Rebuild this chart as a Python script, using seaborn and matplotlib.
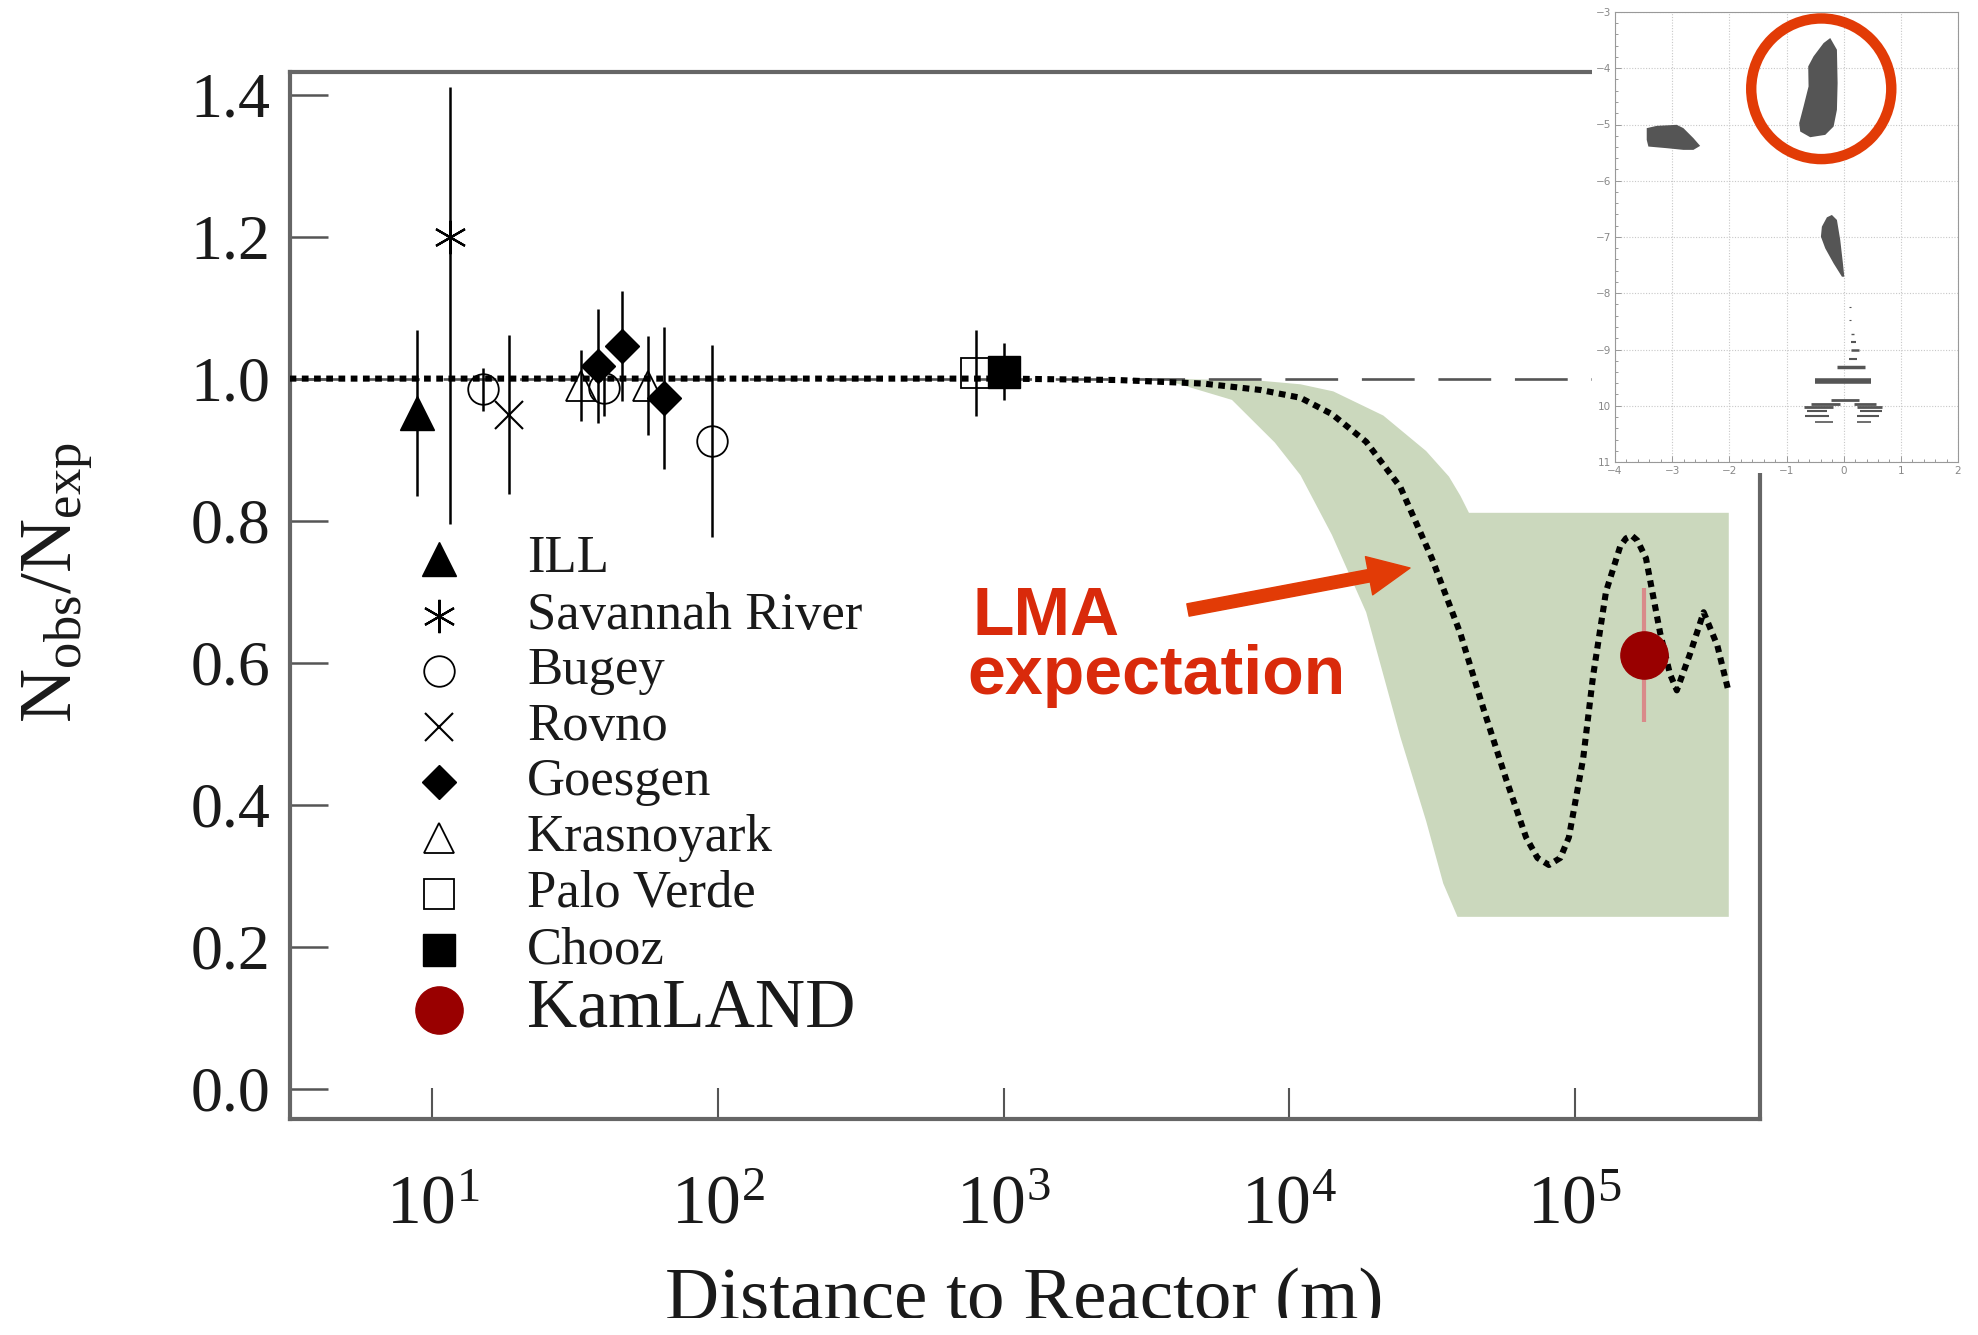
import numpy as np
import pandas as pd
import matplotlib
matplotlib.use("Agg")
import matplotlib.pyplot as plt
import seaborn as sns
from matplotlib.patches import Ellipse, Rectangle
from matplotlib.ticker import FixedLocator, FixedFormatter, MultipleLocator, NullLocator

sns.set_theme(style="white")
plt.rcParams["font.family"] = ["Liberation Serif", "DejaVu Serif"]
plt.rcParams["mathtext.fontset"] = "custom"
plt.rcParams["mathtext.rm"] = "Liberation Serif"
plt.rcParams["mathtext.it"] = "Liberation Serif:italic"

# ---- reactor experiments: distance (m), N_obs/N_exp, 1-sigma error ----
ill_dist = [8.8]
ill_ratio = [0.952]
ill_err = [0.117]

sr_dist = [11.5]
sr_ratio = [1.20]
sr_err_lo = [0.405]
sr_err_hi = [0.21]

bugey_dist = [15.0, 40.0, 95.0]
bugey_ratio = [0.985, 0.987, 0.912]
bugey_err = [0.03, 0.04, 0.135]

rovno_dist = [18.5]
rovno_ratio = [0.949]
rovno_err = [0.112]

goesgen_dist = [37.9, 46.0, 64.7]
goesgen_ratio = [1.018, 1.046, 0.972]
goesgen_err = [0.08, 0.078, 0.10]

krasno_dist = [33.0, 57.0]
krasno_ratio = [0.99, 0.99]
krasno_err = [0.05, 0.07]

palo_dist = [800.0]
palo_ratio = [1.008]
palo_err = [0.06]

chooz_dist = [1000.0]
chooz_ratio = [1.01]
chooz_err = [0.04]

kamland_dist = [1.75e5]
kamland_ratio = [0.611]
kamland_err = [0.094]

# ---- LMA expectation (best fit) ----
curve_dist = [3.16, 1000, 2512, 5012, 7943, 10965, 14125, 18621, 24547, 31623,
              39811, 47863, 57544, 67608, 74131, 81283, 89125, 95499, 107152,
              116145, 128825, 144544, 151356, 158489, 165959, 177828, 199526,
              215774, 228034, 253513, 283139, 316228, 346737]
curve_ratio = [1.0, 1.0, 0.998, 0.993, 0.984, 0.973, 0.95, 0.911, 0.847, 0.747,
               0.641, 0.536, 0.436, 0.354, 0.325, 0.315, 0.325, 0.354, 0.465,
               0.582, 0.70, 0.764, 0.775, 0.779, 0.772, 0.747, 0.641,
               0.584, 0.561, 0.612, 0.671, 0.624, 0.558]

# ---- LMA allowed band ----
band_upper_dist = [3548, 7943, 10965, 14289, 21380, 30200, 36308, 39811, 42658, 346737]
band_upper_ratio = [1.0, 0.997, 0.992, 0.982, 0.948, 0.898, 0.862, 0.835, 0.811, 0.811]
band_lower_dist = [3548, 6310, 8913, 10965, 14125, 18621, 24547, 30200, 34674, 38905, 346737]
band_lower_ratio = [1.0, 0.97, 0.91, 0.864, 0.78, 0.671, 0.495, 0.377, 0.289, 0.242, 0.242]

x_ticks = [1e1, 1e2, 1e3, 1e4, 1e5]
x_tick_labels = [r"$10^{1}$", r"$10^{2}$", r"$10^{3}$", r"$10^{4}$", r"$10^{5}$"]
y_ticks = [0.0, 0.2, 0.4, 0.6, 0.8, 1.0, 1.2, 1.4]

# ---- inset: allowed regions in (log tan^2 theta, log dm^2) ----
lma_x = [-0.235, -0.118, -0.106, -0.118, -0.176, -0.322, -0.585, -0.760, -0.778, -0.702, -0.614, -0.620, -0.527, -0.351]
lma_y = [-3.463, -3.671, -4.264, -4.739, -5.036, -5.184, -5.226, -5.125, -4.976, -4.680, -4.323, -3.967, -3.789, -3.552]
sma_x = [-3.445, -3.270, -2.920, -2.803, -2.628, -2.511, -2.628, -2.803, -3.095, -3.416, -3.445]
sma_y = [-5.065, -5.024, -5.006, -5.065, -5.243, -5.380, -5.451, -5.451, -5.421, -5.392, -5.273]
low_x = [-0.206, -0.118, -0.060, -0.013, 0.011, -0.030, -0.176, -0.322, -0.398, -0.381, -0.293]
low_y = [-6.608, -6.697, -7.053, -7.469, -7.706, -7.706, -7.469, -7.202, -6.994, -6.816, -6.650]
vac_y = [-8.24, -8.48, -8.72, -8.86, -9.01, -9.16, -9.31, -9.56, -9.90, -9.96, -9.96,
         -10.02, -10.02, -10.09, -10.09, -10.19, -10.19, -10.29, -10.29]
vac_x0 = [0.09, 0.09, 0.12, 0.13, 0.13, 0.09, -0.12, -0.50, -0.23, -0.58, 0.18,
          -0.70, 0.23, -0.64, 0.29, -0.67, 0.23, -0.50, 0.23]
vac_x1 = [0.13, 0.13, 0.18, 0.22, 0.26, 0.23, 0.38, 0.47, 0.26, -0.06, 0.56,
          -0.18, 0.67, -0.29, 0.67, -0.26, 0.61, -0.18, 0.47]
vac_w = [0.8, 0.8, 1.0, 1.5, 1.8, 1.5, 2.5, 4.0, 2.0, 2.0, 2.0,
         2.0, 2.0, 1.5, 1.5, 1.5, 1.5, 1.2, 1.2]
inset_x_ticks = [-4, -3, -2, -1, 0, 1, 2]
inset_x_labels = ["\u22124", "\u22123", "\u22122", "\u22121", "0", "1", "2"]
inset_y_ticks = [-11, -10, -9, -8, -7, -6, -5, -4, -3]
inset_y_labels = ["11", "10", "\u22129", "\u22128", "\u22127", "\u22126", "\u22125", "\u22124", "\u22123"]

W, H = 1978, 1335
fig = plt.figure(figsize=(W / 100, H / 100), dpi=100)
fig.patch.set_facecolor("white")
ax = fig.add_axes([290 / W, 1 - 1119 / H, 1470 / W, 1047 / H])
ax.set_facecolor("white")
ax.set_xscale("log")
ax.set_xlim(3.17, 4.46e5)
ax.set_ylim(-0.0427, 1.4318)

# allowed band
band_x = np.concatenate([band_upper_dist, band_lower_dist[::-1]])
band_y = np.concatenate([band_upper_ratio, band_lower_ratio[::-1]])
ax.fill(band_x, band_y, color="#cbd8bd", lw=0, zorder=1)

# no-oscillation reference
ax.axhline(1.0, color="#555555", lw=1.9, ls=(0, (20, 9)), zorder=2)

# expectation curve
curve_df = pd.DataFrame({"distance": curve_dist, "ratio": curve_ratio})
sns.lineplot(data=curve_df, x="distance", y="ratio", ax=ax, color="black",
             lw=4.4, sort=False, estimator=None, zorder=4)
ax.lines[-1].set_linestyle((0, (1.1, 0.9)))

styles = {
    "ILL": dict(marker="^", ms=24, mfc="black", mec="black"),
    "Savannah River": dict(marker=(6, 2, 0), ms=24, mec="black", mew=1.6),
    "Bugey": dict(marker="o", ms=22, mfc="none", mec="black", mew=1.3),
    "Rovno": dict(marker="x", ms=20, mec="black", mew=1.5),
    "Goesgen": dict(marker="D", ms=17, mfc="black", mec="black"),
    "Krasnoyark": dict(marker="^", ms=22, mfc="none", mec="black", mew=1.3),
    "Palo Verde": dict(marker="s", ms=22, mfc="none", mec="black", mew=1.3),
    "Chooz": dict(marker="s", ms=23, mfc="black", mec="black"),
    "KamLAND": dict(marker="o", ms=34, mfc="#990000", mec="#990000"),
}

eb = dict(fmt="none", ecolor="black", elinewidth=1.8, capsize=0, zorder=5)
ax.errorbar(ill_dist, ill_ratio, yerr=ill_err, **eb)
ax.errorbar(sr_dist, sr_ratio, yerr=[sr_err_lo, sr_err_hi], **eb)
ax.errorbar(bugey_dist, bugey_ratio, yerr=bugey_err, **eb)
ax.errorbar(rovno_dist, rovno_ratio, yerr=rovno_err, **eb)
ax.errorbar(goesgen_dist, goesgen_ratio, yerr=goesgen_err, **eb)
ax.errorbar(krasno_dist, krasno_ratio, yerr=krasno_err, **eb)
ax.errorbar(palo_dist, palo_ratio, yerr=palo_err, **eb)
ax.errorbar(chooz_dist, chooz_ratio, yerr=chooz_err, **eb)

series = [("ILL", ill_dist, ill_ratio), ("Savannah River", sr_dist, sr_ratio),
          ("Bugey", bugey_dist, bugey_ratio), ("Rovno", rovno_dist, rovno_ratio),
          ("Goesgen", goesgen_dist, goesgen_ratio), ("Krasnoyark", krasno_dist, krasno_ratio),
          ("Palo Verde", palo_dist, palo_ratio), ("Chooz", chooz_dist, chooz_ratio)]
for name, d, r in series:
    ax.plot(d, r, ls="none", color="black", zorder=6, **styles[name])

ax.errorbar(kamland_dist, kamland_ratio, yerr=kamland_err, fmt="none",
            ecolor="#d98a8a", elinewidth=3.0, capsize=0, zorder=6)
ax.plot(kamland_dist, kamland_ratio, ls="none", zorder=7, **styles["KamLAND"])

# key
legend_rows = [0.535, 0.480, 0.428, 0.374, 0.322, 0.268, 0.215, 0.161, 0.104]
for (name, st), yy in zip(styles.items(), legend_rows):
    ax.plot([0.1014], [yy], transform=ax.transAxes, ls="none", color="black",
            clip_on=False, zorder=6, **st)
    ax.text(0.1612, yy, name, transform=ax.transAxes, va="center", ha="left",
            fontsize=50 if name == "KamLAND" else 38, color="#1a1a1a")

# annotation
ax.text(0.464, 0.4625, "LMA", transform=ax.transAxes, ha="left", va="baseline",
        fontsize=49, fontweight="bold", family="Liberation Sans", color="#d92a0b")
ax.text(0.461, 0.4060, "expectation", transform=ax.transAxes, ha="left", va="baseline",
        fontsize=49, fontweight="bold", family="Liberation Sans", color="#d92a0b")
ax.annotate("", xy=(1410, H - 568), xycoords="figure pixels",
            xytext=(1188, H - 610), textcoords="figure pixels",
            arrowprops=dict(width=9, headwidth=28, headlength=30, color="#e23b06", shrink=0))

# axes styling
for s in ax.spines.values():
    s.set_color("#666666")
    s.set_linewidth(3.0)
ax.set_xticks(x_ticks)
ax.set_xticklabels(x_tick_labels)
ax.xaxis.set_minor_locator(NullLocator())
ax.set_yticks(y_ticks)
ax.set_yticklabels([f"{v:.1f}" for v in y_ticks])
ax.tick_params(axis="x", direction="in", length=22, width=1.5, color="#555555",
               labelsize=50, pad=40, bottom=True, top=False, labelcolor="#1a1a1a")
ax.tick_params(axis="y", direction="in", length=27, width=1.8, color="#555555",
               labelsize=46, pad=14, left=True, right=False, labelcolor="#1a1a1a")
ax.grid(False)

ax.set_ylabel(r"N$_{\mathrm{obs}}$/N$_{\mathrm{exp}}$", fontsize=54, color="#1a1a1a")
ax.yaxis.set_label_coords(-0.133, 0.512)
ax.set_xlabel("Distance to Reactor (m)", fontsize=54, color="#1a1a1a")
ax.xaxis.set_label_coords(0.4995, -0.142)
ax.xaxis.label.set_va("top")

# white strip at the very bottom edge
fig.add_artist(Rectangle((0, 0), 1, 17 / H, transform=fig.transFigure,
                         facecolor="white", edgecolor="none", zorder=20))

# inset panel
box = fig.add_axes([1592 / W, 1 - 473 / H, 1 - 1592 / W, 473 / H], zorder=5)
box.set_axis_off()
box.add_patch(Rectangle((0, 0), 1, 1, transform=box.transAxes,
                        facecolor="white", edgecolor="none"))
ins = fig.add_axes([1615 / W, 1 - 462 / H, 343 / W, 450 / H], zorder=6)
ins.set_facecolor("white")
ins.set_xlim(-4, 2)
ins.set_ylim(-11, -3)
ins.fill(lma_x, lma_y, color="#555555", lw=0, zorder=3)
ins.fill(sma_x, sma_y, color="#555555", lw=0, zorder=3)
ins.fill(low_x, low_y, color="#555555", lw=0, zorder=3)
for yv, a, b, w in zip(vac_y, vac_x0, vac_x1, vac_w):
    ins.hlines(yv, a, b, color="#555555", lw=w, zorder=3)
ins.add_patch(Ellipse((-0.392, -4.365), width=2.45, height=2.5, fill=False,
                      edgecolor="#e23b06", lw=7.5, zorder=4, clip_on=False))
ins.xaxis.set_major_locator(FixedLocator(inset_x_ticks))
ins.xaxis.set_major_formatter(FixedFormatter(inset_x_labels))
ins.yaxis.set_major_locator(FixedLocator(inset_y_ticks))
ins.yaxis.set_major_formatter(FixedFormatter(inset_y_labels))
ins.xaxis.set_minor_locator(MultipleLocator(0.2))
ins.yaxis.set_minor_locator(MultipleLocator(0.2))
ins.tick_params(which="both", direction="in", color="#999999", width=0.7)
ins.tick_params(which="major", length=4, labelsize=7.5, labelcolor="#888888", pad=3)
ins.tick_params(which="minor", length=2)
ins.tick_params(axis="x", bottom=True, top=False, which="both")
ins.tick_params(axis="y", left=True, right=False, which="both")
for lab in ins.get_xticklabels() + ins.get_yticklabels():
    lab.set_family("DejaVu Sans")
ins.grid(True, which="major", color="#c8c8c8", ls=(0, (1, 1.5)), lw=0.8)
for s in ins.spines.values():
    s.set_color("#999999")
    s.set_linewidth(0.8)

fig.savefig("out.png", dpi=100, facecolor="white")
